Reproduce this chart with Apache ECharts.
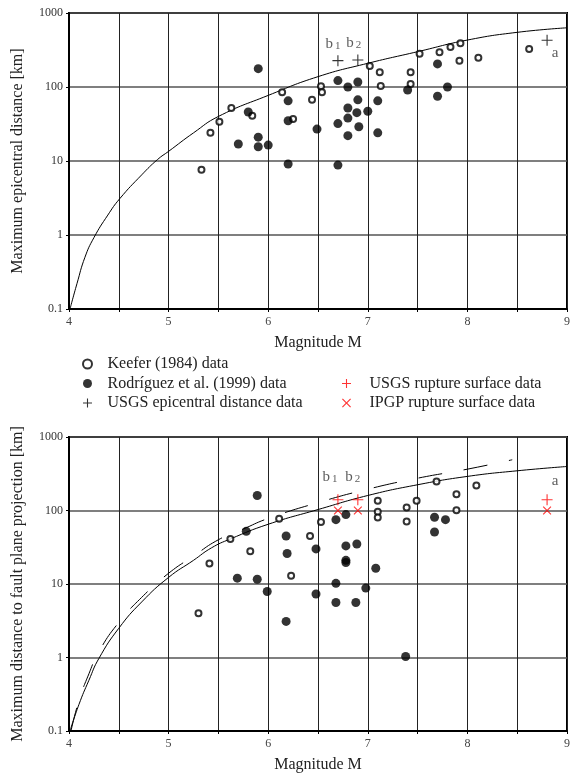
<!DOCTYPE html>
<html>
<head>
<meta charset="utf-8">
<script src="https://cdn.jsdelivr.net/npm/echarts@6/dist/echarts.min.js"></script>
<style>
html, body { margin: 0; padding: 0; background: #fff; }
#chart { width: 573px; height: 774px; }
</style>
</head>
<body>
<div id="chart"></div>
<script>
// axis ranges
const magRange = [4, 9];
const distRange = [0.1, 1000];

// upper plot - maximum epicentral distance [km] vs magnitude
const keeferEpi = [
    [5.33, 7.6], [5.42, 24], [5.51, 34], [5.63, 52], [5.84, 41], [6.14, 85],
    [6.25, 37], [6.44, 67], [6.53, 102], [6.54, 85], [7.02, 192], [7.12, 158],
    [7.13, 103], [7.43, 158], [7.43, 110], [7.52, 282], [7.72, 294], [7.83, 347],
    [7.93, 389], [7.92, 227], [8.11, 249], [8.62, 326]
];
const rodriguezEpi = [
    [5.70, 17], [5.80, 46], [5.90, 177], [5.90, 21], [5.90, 15.6], [6.00, 16.4],
    [6.20, 65], [6.20, 35], [6.20, 9.1], [6.49, 27], [6.70, 122], [6.70, 32],
    [6.70, 8.8], [6.80, 100], [6.80, 52], [6.80, 38], [6.80, 22], [6.90, 117],
    [6.90, 67], [6.89, 45], [6.91, 29], [7.00, 47], [7.10, 65], [7.10, 24],
    [7.40, 91], [7.70, 205], [7.80, 100], [7.70, 75]
];
const usgsEpi = [[6.70, 227], [6.90, 232], [8.80, 428]];
const usgsEpiTags = ['b1', 'b2', 'a'];
const epiBoundM = [4.01, 4.08, 4.16, 4.25, 4.39, 4.51, 4.73, 4.89, 5.0, 5.25, 5.5, 6.0, 6.5, 7.0, 7.5, 8.0, 8.5, 9.0];
const epiBoundR = [0.1, 0.22, 0.5, 0.92, 1.86, 3.1, 6.5, 10.5, 13.5, 24, 40, 77, 138, 209, 300, 431, 548, 631];

// lower plot - maximum distance to fault plane projection [km]
const keeferFault = [
    [5.30, 4.0], [5.41, 19], [5.62, 41], [5.82, 28], [6.11, 77], [6.23, 13],
    [6.42, 45], [6.53, 70], [7.10, 136], [7.10, 96], [7.10, 80], [7.39, 110],
    [7.39, 71], [7.49, 136], [7.69, 249], [7.89, 166], [7.89, 101], [8.09, 218]
];
const rodriguezFault = [
    [5.69, 12], [5.78, 52], [5.89, 160], [5.89, 11.6], [5.99, 7.9], [6.18, 45],
    [6.19, 26], [6.18, 3.1], [6.48, 30], [6.48, 7.3], [6.68, 75], [6.68, 10.2],
    [6.68, 5.6], [6.78, 88], [6.78, 33], [6.78, 21], [6.78, 19.6], [6.89, 35],
    [6.88, 5.6], [6.98, 8.8], [7.08, 16.4], [7.38, 1.03], [7.67, 81], [7.78, 75],
    [7.67, 51]
];
const usgsRupture = [[6.70, 140], [6.90, 140], [8.80, 140]];
const usgsRuptureTags = ['b1', 'b2', 'a'];
const ipgpRupture = [[6.70, 100], [6.90, 100], [8.80, 100]];
const faultBoundM = [4.01, 4.1, 4.2, 4.3, 4.5, 4.73, 5.0, 5.25, 5.43, 5.62, 6.0, 6.5, 7.0, 7.5, 8.0, 8.5, 9.0];
const faultBoundR = [0.1, 0.23, 0.49, 0.97, 2.5, 5.7, 12.3, 21, 31, 41, 65, 103, 160, 224, 291, 347, 397];
const faultBound2M = [4.02, 4.1, 4.2, 4.3, 4.5, 4.75, 5.0, 5.25, 5.5, 5.75, 6.0, 6.5, 7.0, 7.5, 8.0, 8.45];
const faultBound2R = [0.1, 0.26, 0.6, 1.2, 3.0, 7.0, 14, 24, 40, 56, 78, 128, 195, 275, 365, 490];

const FONT = '"Liberation Serif", "DejaVu Serif", serif';
const PLUS = 'path://M0,4.5H10V5.5H0Z M4.5,0H5.5V10H4.5Z';
const PLUS_ICON = 'path://M0,4.4H10V5.6H0Z M4.4,0H5.6V10H4.4Z';
const CROSS_ICON = 'path://M0.9,0 L5,4.1 L9.1,0 L10,0.9 L5.9,5 L10,9.1 L9.1,10 L5,5.9 L0.9,10 L0,9.1 L4.1,5 L0,0.9Z';

const zip = (xs, ys) => xs.map((x, i) => [x, ys[i]]);

// b1 / b2 / a tags next to the special events
function tagged(points, tags, place) {
    return points.map((p, i) => {
        const t = tags[i];
        const pl = place[t];
        return {
            value: p,
            label: {
                show: true,
                position: pl.pos,
                distance: pl.dist,
                offset: pl.off,
                formatter: t.length > 1 ? '{n|' + t[0] + '}{s|' + t.slice(1) + '}' : '{n|' + t + '}',
                rich: {
                    n: { fontFamily: FONT, fontSize: 15, lineHeight: 15, color: '#333' },
                    s: { fontFamily: FONT, fontSize: 11, lineHeight: 11, color: '#333', verticalAlign: 'bottom', padding: [0, 0, 0, 2] }
                }
            }
        };
    });
}

function xAxisCfg(idx) {
    return {
        type: 'value',
        gridIndex: idx,
        min: magRange[0],
        max: magRange[1],
        interval: 0.5,
        name: 'Magnitude M',
        nameLocation: 'middle',
        nameGap: 26,
        nameTextStyle: { fontFamily: FONT, fontSize: 16, color: '#222' },
        axisLine: { lineStyle: { color: '#000', width: 2 } },
        axisTick: { show: true, length: 3, lineStyle: { color: '#000' } },
        axisLabel: {
            fontFamily: FONT, fontSize: 12, color: '#444', margin: 7,
            alignMinLabel: 'center', alignMaxLabel: 'center',
            formatter: v => (Math.abs(v - Math.round(v)) < 1e-6 ? String(Math.round(v)) : '')
        },
        splitLine: { show: true, lineStyle: { color: '#222', width: 1 } }
    };
}

function yAxisCfg(idx, title) {
    return {
        type: 'log',
        logBase: 10,
        gridIndex: idx,
        min: distRange[0],
        max: distRange[1],
        name: title,
        nameLocation: 'middle',
        nameGap: 43,
        nameTextStyle: { fontFamily: FONT, fontSize: 16, color: '#222' },
        axisLine: { lineStyle: { color: '#000', width: 2 } },
        axisTick: { show: true, length: 3, lineStyle: { color: '#000' } },
        axisLabel: {
            fontFamily: FONT, fontSize: 12, color: '#333', margin: 6,
            formatter: v => String(+Number(v).toPrecision(4))
        },
        splitLine: { show: true, lineStyle: { color: '#555', width: 1.5 } }
    };
}

const openDot = { symbol: 'circle', symbolSize: 6, itemStyle: { color: '#fff', borderColor: '#000', borderWidth: 2 } };
const fullDot = { symbol: 'circle', symbolSize: 9, itemStyle: { color: '#000' } };

const chart = echarts.init(document.getElementById('chart'));
const option = {
    animation: false,
    backgroundColor: '#fff',
    grid: [
        { left: 69, right: 1, top: 13, height: 296, show: true, borderColor: '#000', borderWidth: 2 },
        { left: 69, right: 1, top: 437, height: 296, show: true, borderColor: '#000', borderWidth: 2 }
    ],
    xAxis: [xAxisCfg(0), xAxisCfg(1)],
    yAxis: [
        yAxisCfg(0, 'Maximum epicentral distance [km]'),
        yAxisCfg(1, 'Maximum distance to fault plane projection [km]')
    ],
    legend: [
        {
            orient: 'vertical', left: 77, top: 351, itemWidth: 30, itemHeight: 9, itemGap: 3.5,
            selectedMode: false,
            textStyle: { fontFamily: FONT, fontSize: 16, color: '#222' },
            data: [
                'Keefer (1984) data',
                'Rodríguez et al. (1999) data',
                { name: 'USGS epicentral distance data', icon: PLUS_ICON }
            ]
        },
        {
            orient: 'vertical', left: 337, top: 370.5, itemWidth: 36, itemHeight: 9, itemGap: 3.5,
            selectedMode: false,
            textStyle: { fontFamily: FONT, fontSize: 16, color: '#222' },
            data: [
                { name: 'USGS rupture surface data', icon: PLUS_ICON },
                { name: 'IPGP rupture surface data', icon: CROSS_ICON }
            ]
        }
    ],
    series: [
        {
            name: 'epicentral bound', type: 'line', xAxisIndex: 0, yAxisIndex: 0,
            data: zip(epiBoundM, epiBoundR), smooth: true, symbol: 'none',
            lineStyle: { color: '#000', width: 1 }, z: 1
        },
        Object.assign({ name: 'Keefer (1984) data', type: 'scatter', xAxisIndex: 0, yAxisIndex: 0, data: keeferEpi, z: 3 }, openDot),
        Object.assign({ name: 'Rodríguez et al. (1999) data', type: 'scatter', xAxisIndex: 0, yAxisIndex: 0, data: rodriguezEpi, z: 3 }, fullDot),
        {
            name: 'USGS epicentral distance data', type: 'scatter', xAxisIndex: 0, yAxisIndex: 0,
            symbol: PLUS, symbolSize: 11, itemStyle: { color: '#000' }, z: 4,
            data: tagged(usgsEpi, usgsEpiTags, {
                b1: { pos: 'top', dist: 4, off: [-5, 0] },
                b2: { pos: 'top', dist: 4, off: [-4, 0] },
                a: { pos: 'bottom', dist: 0, off: [8, 0] }
            })
        },
        {
            name: 'fault bound', type: 'line', xAxisIndex: 1, yAxisIndex: 1,
            data: zip(faultBoundM, faultBoundR), smooth: true, symbol: 'none',
            lineStyle: { color: '#000', width: 1 }, z: 1
        },
        {
            name: 'fault bound 2', type: 'line', xAxisIndex: 1, yAxisIndex: 1,
            data: zip(faultBound2M, faultBound2R), smooth: true, symbol: 'none',
            lineStyle: { color: '#000', width: 1, type: [24, 22] }, z: 1
        },
        Object.assign({ name: 'Keefer (1984) data', type: 'scatter', xAxisIndex: 1, yAxisIndex: 1, data: keeferFault, z: 3 }, openDot),
        Object.assign({ name: 'Rodríguez et al. (1999) data', type: 'scatter', xAxisIndex: 1, yAxisIndex: 1, data: rodriguezFault, z: 3 }, fullDot),
        {
            name: 'USGS rupture surface data', type: 'scatter', xAxisIndex: 1, yAxisIndex: 1,
            symbol: PLUS, symbolSize: 11, itemStyle: { color: '#ff0000' }, z: 4,
            data: tagged(usgsRupture, usgsRuptureTags, {
                b1: { pos: 'top', dist: 10, off: [-8, 0] },
                b2: { pos: 'top', dist: 10, off: [-5, 0] },
                a: { pos: 'top', dist: 5.5, off: [8, 0] }
            })
        },
        {
            name: 'IPGP rupture surface data', type: 'scatter', xAxisIndex: 1, yAxisIndex: 1,
            symbol: PLUS, symbolSize: 11, symbolRotate: 45, itemStyle: { color: '#ff0000' }, z: 4,
            data: ipgpRupture
        }
    ]
};
chart.setOption(option);
</script>
</body>
</html>
